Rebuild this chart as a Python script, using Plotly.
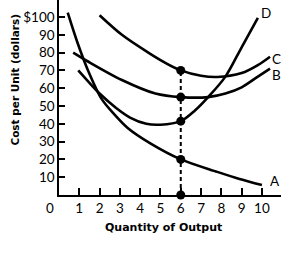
import plotly.graph_objects as go

# Curve A (AFC)
a_x = [0.43, 0.93, 1.43, 2.1, 2.75, 3.4, 4.5, 6.0, 7.8, 8.9, 10.0]
a_y = [102.5, 85, 70, 54, 45, 37.5, 29, 20, 13, 9, 5.6]
# Curve B (AVC)
b_x = [0.7, 1.43, 3.1, 4.75, 6.0, 7.35, 8.2, 9.0, 9.8, 10.4]
b_y = [80, 75, 64.6, 57, 55, 55, 57, 60.5, 66.5, 71]
# Curve C (ATC)
c_x = [2.0, 3.1, 4.4, 5.2, 6.0, 7.0, 7.8, 9.0, 9.8, 10.4]
c_y = [101, 90, 80, 74.5, 70, 67, 66.3, 68.5, 73, 77.7]
# Curve D (MC)
d_x = [0.95, 1.5, 2.0, 2.8, 3.5, 4.3, 5.0, 6.0, 6.7, 7.35, 8.2, 9.0, 9.8]
d_y = [70, 63, 57, 49, 43.5, 40, 39.5, 41.5, 47.5, 55, 66.5, 83, 99.5]

q_star = 6
dot_y = [70, 55, 41.5, 20, 0]

curve_labels = ["A", "B", "C", "D"]
label_x = [10.64, 10.74, 10.74, 10.2]
label_y = [7.9, 67.4, 76.4, 102.2]

x_ticks = [1, 2, 3, 4, 5, 6, 7, 8, 9, 10]
y_ticks = [10, 20, 30, 40, 50, 60, 70, 80, 90, 100]
y_tick_text = ["10", "20", "30", "40", "50", "60", "70", "80", "90", "$100"]

fig = go.Figure()
fig.add_trace(go.Scatter(x=[q_star, q_star], y=[0, max(dot_y)], mode="lines",
                         line=dict(color="black", width=2, dash="4px,3px"),
                         hoverinfo="skip", showlegend=False))
for xs, ys in [(a_x, a_y), (b_x, b_y), (c_x, c_y), (d_x, d_y)]:
    fig.add_trace(go.Scatter(x=xs, y=ys, mode="lines",
                             line=dict(color="black", width=2.6, shape="spline", smoothing=0.9),
                             showlegend=False))
fig.add_trace(go.Scatter(x=[q_star] * len(dot_y), y=dot_y, mode="markers",
                         marker=dict(color="black", size=9), cliponaxis=False,
                         showlegend=False))

tick_font = dict(family="Lato", size=13.5, color="black")
for t, lx, ly in zip(curve_labels, label_x, label_y):
    fig.add_annotation(x=lx, y=ly, text=t, showarrow=False, font=tick_font,
                       xanchor="center", yanchor="middle")
fig.add_annotation(x=0, y=0, text="0", showarrow=False, font=tick_font,
                   xanchor="center", yanchor="middle", xshift=-9, yshift=-13)
fig.add_annotation(xref="paper", yref="paper", x=0.47, y=-0.165, text="Quantity of Output",
                   showarrow=False, font=dict(family="DejaVu Sans", size=11, color="black", weight="bold"),
                   xanchor="center", yanchor="middle")
fig.add_annotation(xref="paper", yref="paper", x=-0.2, y=0.59, text="Cost per Unit (dollars)",
                   textangle=-90, showarrow=False,
                   font=dict(family="DejaVu Sans", size=10.5, color="black", weight="bold"),
                   xanchor="center", yanchor="middle")

fig.update_xaxes(range=[0, 10.94], tickvals=x_ticks, ticks="inside", ticklen=7, tickwidth=1.5,
                 tickcolor="black", showline=True, linecolor="black", linewidth=1.5,
                 showgrid=False, zeroline=False, tickfont=tick_font)
fig.update_yaxes(range=[0, 109.55], tickvals=y_ticks, ticktext=y_tick_text, ticks="inside",
                 ticklen=6, tickwidth=1.5, tickcolor="black", showline=True, linecolor="black",
                 linewidth=1.5, showgrid=False, zeroline=False, tickfont=tick_font)
fig.update_layout(width=307, height=259, margin=dict(l=59, r=26, t=0, b=64),
                  plot_bgcolor="white", paper_bgcolor="white")
fig.write_html("out.html")
